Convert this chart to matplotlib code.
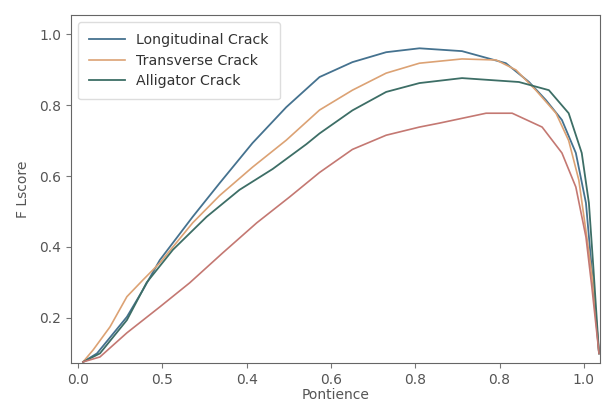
import matplotlib
matplotlib.use("Agg")
import matplotlib.pyplot as plt
import numpy as np

# x tick positions and their (printed) labels
xtick_pos = [0.0, 0.2, 0.4, 0.6, 0.8, 1.0, 1.2]
xtick_labels = ["0.0", "0.5", "0.4", "0.6", "0.8", "0.8", "1.0"]
ytick_pos = [0.2, 0.4, 0.6, 0.8, 1.0]
ytick_labels = ["0.2", "0.4", "0.6", "0.8", "1.0"]

# series (x in axis units, y = F score)
long_x = [0.012, 0.045, 0.116, 0.154, 0.194, 0.272, 0.336, 0.414, 0.494, 0.573, 0.651, 0.731, 0.810, 0.911, 1.015, 1.070, 1.110, 1.148, 1.181, 1.205, 1.219, 1.236]
long_y = [0.076, 0.100, 0.203, 0.279, 0.363, 0.485, 0.580, 0.693, 0.794, 0.879, 0.921, 0.949, 0.960, 0.952, 0.918, 0.865, 0.814, 0.758, 0.665, 0.524, 0.335, 0.100]

trans_x = [0.012, 0.036, 0.076, 0.116, 0.154, 0.194, 0.272, 0.336, 0.414, 0.494, 0.573, 0.651, 0.731, 0.810, 0.911, 0.992, 1.039, 1.086, 1.134, 1.164, 1.188, 1.207, 1.223, 1.236]
trans_y = [0.076, 0.110, 0.175, 0.260, 0.307, 0.355, 0.468, 0.545, 0.625, 0.701, 0.786, 0.842, 0.890, 0.918, 0.930, 0.927, 0.899, 0.842, 0.777, 0.700, 0.589, 0.428, 0.287, 0.100]

alli_x = [0.012, 0.052, 0.116, 0.163, 0.225, 0.305, 0.383, 0.462, 0.542, 0.573, 0.651, 0.731, 0.810, 0.911, 1.046, 1.117, 1.164, 1.195, 1.212, 1.223, 1.236]
alli_y = [0.076, 0.100, 0.194, 0.300, 0.392, 0.485, 0.561, 0.620, 0.690, 0.720, 0.785, 0.837, 0.862, 0.876, 0.865, 0.842, 0.777, 0.665, 0.524, 0.335, 0.100]

other_x = [0.012, 0.052, 0.116, 0.194, 0.265, 0.343, 0.424, 0.502, 0.573, 0.651, 0.731, 0.810, 0.857, 0.968, 1.030, 1.101, 1.148, 1.181, 1.205, 1.219, 1.236]
other_y = [0.076, 0.090, 0.158, 0.231, 0.299, 0.383, 0.468, 0.541, 0.610, 0.675, 0.715, 0.738, 0.749, 0.777, 0.777, 0.738, 0.665, 0.569, 0.428, 0.287, 0.100]

fig = plt.figure(figsize=(6.09, 4.04), dpi=100)
ax = fig.add_axes([0.1166, 0.1015, 0.8684, 0.8615])

ax.plot(long_x, long_y, color="#45728f", lw=1.3, label="Longitudinal Crack")
ax.plot(trans_x, trans_y, color="#dca274", lw=1.2, label="Transverse Crack")
ax.plot(alli_x, alli_y, color="#3d6e66", lw=1.3, label="Alligator Crack")
ax.plot(other_x, other_y, color="#c47872", lw=1.2)

ax.set_xlim(-0.0166, 1.238)
ax.set_ylim(0.073, 1.054)
ax.set_xticks(xtick_pos)
ax.set_xticklabels(xtick_labels)
ax.set_yticks(ytick_pos)
ax.set_yticklabels(ytick_labels)

txt = "#555555"
ax.tick_params(colors="#777777", labelcolor=txt, labelsize=10)
for s in ax.spines.values():
    s.set_color("#666666")
ax.set_xlabel("Pontience", fontsize=10, color=txt, labelpad=1)
ax.set_ylabel("F Lscore", fontsize=10, color=txt, labelpad=7)

leg = ax.legend(loc="upper left", fontsize=10.2, handlelength=2.5, framealpha=1,
                borderpad=0.8, labelspacing=0.45)
leg.get_frame().set_edgecolor("#dddddd")
for t in leg.get_texts():
    t.set_color("#333333")

fig.savefig("out.png", dpi=100)
